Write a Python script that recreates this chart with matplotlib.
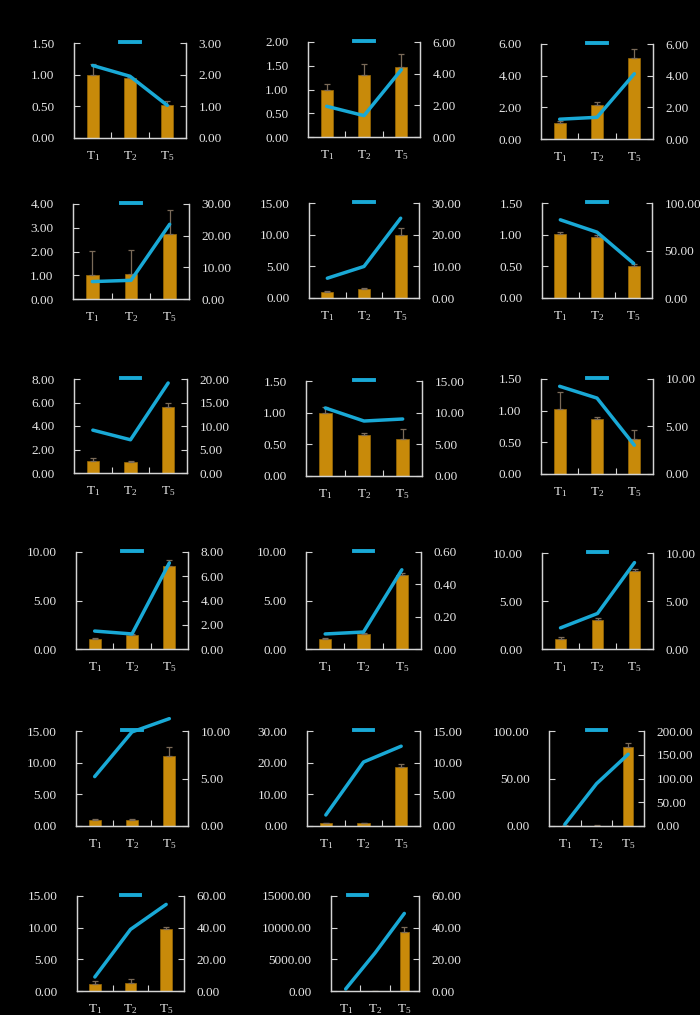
import numpy as np
import matplotlib
matplotlib.use('Agg')
import matplotlib.pyplot as plt
from matplotlib.lines import Line2D

plt.rcParams['font.family'] = ['Liberation Serif', 'DejaVu Serif']
plt.rcParams['mathtext.fontset'] = 'custom'
plt.rcParams['mathtext.rm'] = 'Liberation Serif'

# data
categories = [r'$\mathrm{T_1}$', r'$\mathrm{T_2}$', r'$\mathrm{T_5}$']

bar_means = [
    [1.00, 0.94, 0.52], [1.00, 1.30, 1.48], [0.99, 2.15, 5.11],
    [0.99, 1.04, 2.73], [1.00, 1.43, 9.91], [1.01, 0.96, 0.51],
    [1.02, 0.96, 5.60], [1.00, 0.64, 0.59], [1.02, 0.87, 0.55],
    [1.00, 1.40, 8.60], [1.00, 1.50, 7.60], [1.00, 3.00, 8.10],
    [1.00, 1.00, 11.00], [1.00, 1.00, 18.50], [0.50, 0.50, 83.50],
    [1.05, 1.32, 9.74], [1.00, 30.00, 9316.00],
]
bar_errs = [
    [0.17, 0.03, 0.06], [0.11, 0.24, 0.27], [0.17, 0.17, 0.57],
    [1.02, 1.03, 1.02], [0.10, 0.11, 1.10], [0.03, 0.04, 0.025],
    [0.28, 0.06, 0.36], [0.09, 0.04, 0.15], [0.28, 0.03, 0.15],
    [0.10, 0.10, 0.60], [0.10, 0.10, 0.20], [0.20, 0.20, 0.20],
    [0.10, 0.10, 1.50], [0.10, 0.10, 1.00], [0.30, 0.30, 3.50],
    [0.58, 0.52, 0.36], [0.00, 10.00, 734.00],
]
line_vals = [
    [2.29, 1.95, 1.03], [1.94, 1.35, 4.25], [1.25, 1.37, 4.12],
    [5.50, 5.90, 23.60], [6.25, 9.96, 25.20], [82.3, 69.3, 36.4],
    [9.12, 7.07, 19.15], [10.74, 8.68, 9.00], [9.23, 7.99, 3.03],
    [1.48, 1.24, 7.10], [0.093, 0.105, 0.49], [2.20, 3.70, 9.00],
    [5.20, 9.90, 11.30], [1.74, 10.10, 12.60], [3.5, 89.0, 151.0],
    [8.84, 38.90, 54.70], [1.26, 24.00, 49.00],
]
left_ticks = [
    [0, 0.5, 1.0, 1.5], [0, 0.5, 1.0, 1.5, 2.0], [0, 2, 4, 6],
    [0, 1, 2, 3, 4], [0, 5, 10, 15], [0, 0.5, 1.0, 1.5],
    [0, 2, 4, 6, 8], [0, 0.5, 1.0, 1.5], [0, 0.5, 1.0, 1.5],
    [0, 5, 10], [0, 5, 10], [0, 5, 10],
    [0, 5, 10, 15], [0, 10, 20, 30], [0, 50, 100],
    [0, 5, 10, 15], [0, 5000, 10000, 15000],
]
right_ticks = [
    [0, 1, 2, 3], [0, 2, 4, 6], [0, 2, 4, 6],
    [0, 10, 20, 30], [0, 10, 20, 30], [0, 50, 100],
    [0, 5, 10, 15, 20], [0, 5, 10, 15], [0, 5, 10],
    [0, 2, 4, 6, 8], [0, 0.2, 0.4, 0.6], [0, 5, 10],
    [0, 5, 10], [0, 5, 10, 15], [0, 50, 100, 150, 200],
    [0, 20, 40, 60], [0, 20, 40, 60],
]

# axes boxes in pixels: left, top, right, bottom
boxes = [
    (74, 43, 186, 138), (308, 42, 420, 137), (541, 44, 653, 139),
    (73, 204, 189, 299), (309, 203, 419, 298), (542, 203, 652, 298),
    (74, 379, 187, 473), (306, 381, 422, 476), (541, 379, 653, 474),
    (76, 552, 188, 649), (306, 552, 421, 649), (542, 553, 653, 649),
    (76, 731, 188, 826), (307, 731, 420, 826), (549, 731, 644, 826),
    (77, 896, 184, 991), (331, 896, 419, 991),
]
legend_x = [0.5] * 16 + [0.3]

W, H = 700, 1015
bar_color = '#C88A0A'
line_color = '#19A9D6'
axis_color = '#d4d4d4'
text_color = '#e6e6e6'

fig = plt.figure(figsize=(W / 100, H / 100), dpi=100, facecolor='black')
x = np.arange(3)

for i in range(17):
    l, t, r, b = boxes[i]
    ax = fig.add_axes([l / W, 1 - b / H, (r - l) / W, (b - t) / H])
    ax.set_facecolor('none')
    ax.bar(x, bar_means[i], width=0.32, color=bar_color,
           edgecolor='#9a6a05', linewidth=0.5, zorder=2)
    ax.errorbar(x, bar_means[i], yerr=[np.zeros(3), bar_errs[i]], fmt='none',
                ecolor='#7a6a58', elinewidth=0.9, capsize=2.5, capthick=0.9,
                zorder=3)
    ax.set_xlim(-0.5, 2.5)
    ax.set_ylim(left_ticks[i][0], left_ticks[i][-1])
    ax.set_yticks(left_ticks[i])
    ax.set_yticklabels(['%.2f' % v for v in left_ticks[i]])
    ax.set_xticks(x)
    ax.set_xticklabels(categories)
    ax.set_xticks([0.5, 1.5], minor=True)
    ax.tick_params(axis='x', which='major', length=0, pad=8,
                   labelsize=9.5, colors=text_color)
    ax.tick_params(axis='x', which='minor', direction='in', length=4,
                   width=0.8, color=axis_color)
    ax.tick_params(axis='y', direction='in', length=4, width=0.8,
                   pad=14, labelsize=9.5, color=axis_color,
                   labelcolor=text_color)

    ax2 = ax.twinx()
    ax2.plot(x, line_vals[i], color=line_color, linewidth=2.5,
             solid_capstyle='round', zorder=4, clip_on=False)
    ax2.set_ylim(right_ticks[i][0], right_ticks[i][-1])
    ax2.set_yticks(right_ticks[i])
    ax2.set_yticklabels(['%.2f' % v for v in right_ticks[i]])
    ax2.tick_params(axis='y', direction='in', length=4, width=0.8,
                    pad=9, labelsize=9.5, color=axis_color,
                    labelcolor=text_color)

    for a in (ax, ax2):
        a.spines['top'].set_visible(False)
        for s in ('left', 'right', 'bottom'):
            a.spines[s].set_color(axis_color)
            a.spines[s].set_linewidth(0.9)

    handle = Line2D([], [], color=line_color, linewidth=2.8)
    ax2.legend([handle], [''], loc='center', frameon=False,
               bbox_to_anchor=(legend_x[i], 1.0), handlelength=1.4,
               handletextpad=0, borderpad=0)

fig.savefig('out.png', dpi=100, facecolor='black')
